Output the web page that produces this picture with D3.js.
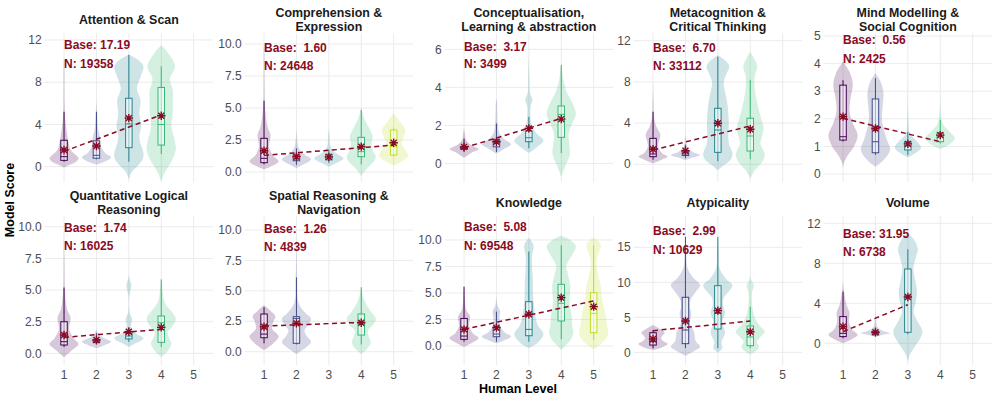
<!DOCTYPE html>
<html>
<head>
<meta charset="utf-8">
<script src="https://cdn.jsdelivr.net/npm/d3@7"></script>
<style>
  body { margin: 0; background: #fff; }
  text { font-family: "Liberation Sans", Arial, sans-serif; }
</style>
</head>
<body>
<svg id="chart" width="996" height="399"></svg>
<script>
// ---- data ----
const panelTitles = [
  ['Attention & Scan'], ['Comprehension &', 'Expression'],
  ['Conceptualisation,', 'Learning & abstraction'], ['Metacognition &', 'Critical Thinking'],
  ['Mind Modelling &', 'Social Cognition'], ['Quantitative Logical', 'Reasoning'],
  ['Spatial Reasoning &', 'Navigation'], ['Knowledge'], ['Atypicality'], ['Volume']
];
const humanLevels = [1, 2, 3, 4, 5];
const baseValues = [17.19, 1.60, 3.17, 6.70, 0.56, 1.74, 1.26, 5.08, 2.99, 31.95];
const nValues = [19358, 24648, 3499, 33112, 2425, 16025, 4839, 69548, 10629, 6738];

// levels present in each panel
const panelLevels = [
  [1, 2, 3, 4], [1, 2, 3, 4, 5], [1, 2, 3, 4], [1, 2, 3, 4], [1, 2, 3, 4],
  [1, 2, 3, 4], [1, 2, 4], [1, 2, 3, 4, 5], [1, 2, 3, 4], [1, 2, 3]
];

const yDomains = [
  [-1.45, 12.66], [-0.78, 10.86], [-0.98, 6.86], [-1.72, 12.75], [-0.29, 5.11],
  [-0.92, 10.85], [-1.09, 11.15], [-1.79, 12.26], [-1.81, 19.47], [-2.17, 12.73]
];
const yTicks = [
  [0, 4, 8, 12], [0, 2.5, 5, 7.5, 10], [0, 2, 4, 6], [0, 4, 8, 12], [0, 1, 2, 3, 4, 5],
  [0, 2.5, 5, 7.5, 10], [0, 2.5, 5, 7.5, 10], [0, 2.5, 5, 7.5, 10], [0, 5, 10, 15], [0, 4, 8, 12]
];
const tickFormats = ['d', '.1f', 'd', 'd', 'd', '.1f', '.1f', '.1f', 'd', 'd'];

// label heights in data units: [Base line, N line]
const labelAt = [
  [11.52, 9.72], [9.71, 8.28], [6.14, 5.26], [11.36, 9.57], [4.86, 4.17],
  [9.92, 8.5], [10.06, 8.6], [11.25, 9.46], [17.37, 14.7], [11.0, 9.16]
];

// mean model score per level (star)
const meanScores = [
  [1.58, 1.96, 4.6, 4.83], [1.66, 1.2, 1.18, 1.98, 2.29], [0.87, 1.14, 1.84, 2.33],
  [1.46, 1.32, 3.98, 3.4], [2.08, 1.65, 1.09, 1.41], [1.45, 1.05, 1.71, 2.05],
  [2.05, 2.33, 2.38], [1.57, 1.73, 2.99, 4.56, 3.71], [1.9, 4.47, 5.95, 2.94],
  [1.67, 1.1, 4.63]
];

// linear fit: value at first level and at last level
const fitLines = [
  [1.45, 4.9], [1.3, 2.1], [0.82, 2.37], [1.39, 3.72], [2.02, 1.17],
  [1.26, 1.9], [2.11, 2.41], [1.57, 4.25], [3.09, 4.47], [1.16, 3.86]
];

// box stats per level: [lower whisker, q1, median, q3, upper whisker]
const boxStats = [
  [[0.47, 0.6, 0.95, 2.5, 5.2], [0.7, 0.8, 1.08, 2.45, 5.2], [0.47, 1.8, 4.05, 6.48, 10.6], [1.2, 2.05, 4.0, 7.5, 9.5]],
  [[0.6, 0.73, 1.07, 2.63, 5.57], [0.55, 0.88, 1.02, 1.33, 1.85], [0.7, 0.95, 1.12, 1.38, 1.75], [0.6, 1.2, 1.59, 2.71, 4.84], [1.2, 1.33, 1.98, 3.28, 3.45]],
  [[0.6, 0.75, 0.8, 0.88, 1.3], [0.6, 0.87, 1.08, 1.23, 2.1], [0.8, 1.14, 1.35, 1.7, 2.45], [0.54, 1.37, 2.58, 3.02, 5.17]],
  [[0.44, 0.74, 1.0, 2.52, 5.1], [0.6, 0.85, 1.0, 1.3, 1.9], [0.3, 1.16, 3.33, 5.44, 10.45], [0.49, 1.29, 2.75, 4.47, 8.2]],
  [[1.18, 1.23, 1.35, 3.22, 3.4], [0.69, 0.77, 1.17, 2.72, 3.47], [0.69, 0.87, 1.03, 1.17, 1.53], [1.1, 1.17, 1.35, 1.5, 1.96]],
  [[0.5, 0.66, 0.92, 2.5, 5.2], [0.7, 0.85, 0.95, 1.1, 1.6], [0.9, 1.14, 1.37, 1.58, 2.05], [0.5, 0.87, 2.42, 2.95, 5.84]],
  [[0.69, 1.15, 1.45, 3.1, 3.65], [0.6, 0.69, 2.74, 2.88, 6.1], [0.6, 1.37, 2.47, 3.1, 5.3]],
  [[0.4, 0.63, 0.94, 2.6, 5.6], [0.4, 0.88, 1.13, 1.82, 3.24], [0.4, 0.97, 1.57, 4.18, 8.9], [0.63, 2.36, 4.03, 5.82, 9.5], [0.57, 1.26, 3.08, 5.03, 9.5]],
  [[0.57, 1.04, 1.52, 2.8, 3.19], [0.6, 1.24, 3.19, 7.86, 16.5], [0.6, 3.33, 5.57, 9.52, 16.5], [0.6, 0.95, 2.2, 3.76, 6.5]],
  [[0.5, 0.67, 1.0, 2.67, 5.17], [0.7, 0.85, 1.0, 1.2, 1.6], [0.9, 1.1, 4.73, 7.43, 9.4]]
];

// violin outlines per level: [score, relative half width]
const violinShapes = [
  [
    [[-0.1, 0], [0.2, 0.4], [0.5, 0.85], [0.8, 1], [1.1, 0.8], [1.6, 0.45], [2.5, 0.28], [3.2, 0.2], [4.5, 0.08], [6, 0.04], [10, 0.02], [10.3, 0]],
    [[0.2, 0], [0.5, 0.6], [0.9, 1], [1.3, 0.6], [2, 0.3], [2.8, 0.25], [3.5, 0.12], [5, 0.05], [6.2, 0]],
    [[-1.2, 0], [-0.5, 0.2], [0, 0.55], [0.7, 0.95], [1.3, 1], [2.2, 0.8], [2.9, 0.72], [3.8, 0.85], [5, 0.72], [6.3, 0.8], [7.4, 0.55], [8.5, 0.8], [9.5, 1], [10.1, 0.65], [10.6, 0]],
    [[-1.4, 0], [-0.5, 0.25], [0.5, 0.7], [1.6, 1], [2.5, 0.92], [3.8, 0.7], [5, 0.78], [6.3, 0.8], [7.2, 0.8], [8.3, 0.6], [9.5, 0.95], [10.7, 0.5], [11.5, 0]]
  ],
  [
    [[0.2, 0], [0.5, 0.6], [0.85, 1], [1.3, 0.6], [2, 0.35], [2.9, 0.45], [3.5, 0.25], [5, 0.07], [7, 0.03], [9.7, 0.02], [10, 0]],
    [[0.3, 0], [0.6, 0.5], [1, 1], [1.4, 0.5], [1.9, 0.15], [2.5, 0.05], [3.4, 0]],
    [[0.4, 0], [0.7, 0.5], [1.05, 1], [1.5, 0.45], [2, 0.12], [2.8, 0.05], [3.4, 0]],
    [[-0.3, 0], [0.3, 0.4], [0.8, 0.85], [1.2, 1], [1.8, 0.75], [2.3, 0.72], [2.8, 0.78], [3.4, 0.55], [4.2, 0.2], [5.1, 0]],
    [[0.5, 0], [0.9, 0.65], [1.3, 1], [1.8, 0.75], [2.25, 0.55], [2.8, 0.7], [3.3, 0.8], [3.9, 0.45], [4.6, 0]]
  ],
  [
    [[0.3, 0], [0.55, 0.5], [0.75, 1], [0.95, 0.5], [1.2, 0.15], [1.5, 0.07], [1.9, 0]],
    [[0.5, 0], [0.75, 0.5], [1, 1], [1.3, 0.5], [1.6, 0.2], [2.2, 0.08], [3.2, 0.04], [3.4, 0]],
    [[0.55, 0], [0.85, 0.55], [1.2, 1], [1.6, 0.5], [2, 0.2], [2.6, 0.1], [3, 0.12], [3.35, 0.25], [3.7, 0.08], [4.5, 0.04], [5.7, 0]],
    [[-0.7, 0], [-0.2, 0.25], [0.5, 0.6], [1, 0.55], [1.5, 0.5], [2, 0.7], [2.6, 1], [3.2, 0.75], [3.8, 0.35], [4.5, 0.12], [5.3, 0]]
  ],
  [
    [[0.1, 0], [0.45, 0.6], [0.75, 1], [1.1, 0.6], [1.8, 0.35], [2.9, 0.5], [3.6, 0.25], [4.5, 0.08], [6, 0.03], [8, 0]],
    [[0.4, 0], [0.65, 0.5], [0.9, 1], [1.2, 0.5], [1.6, 0.15], [2.3, 0.05], [3, 0]],
    [[-0.6, 0], [-0.1, 0.4], [0.5, 0.9], [1.1, 1], [1.8, 0.8], [2.5, 0.72], [4, 0.75], [5.9, 0.65], [7, 0.5], [8, 0.4], [8.8, 0.6], [9.5, 0.78], [10.1, 0.5], [10.6, 0]],
    [[-1.4, 0], [-0.6, 0.3], [0.2, 0.8], [0.9, 1], [1.5, 0.85], [2, 0.7], [2.8, 0.82], [3.5, 0.92], [4.3, 0.78], [5.1, 0.62], [6.5, 0.4], [8, 0.28], [8.8, 0.35], [9.5, 0.48], [10.2, 0.3], [10.9, 0]]
  ],
  [
    [[0.2, 0], [0.4, 0.06], [0.7, 0.35], [1, 0.75], [1.4, 1], [1.8, 0.7], [2.25, 0.45], [2.7, 0.5], [3.25, 0.67], [3.7, 0.45], [4.07, 0]],
    [[0.27, 0], [0.5, 0.55], [0.87, 1], [1.3, 0.75], [1.95, 0.45], [2.5, 0.5], [2.95, 0.55], [3.35, 0.35], [3.65, 0]],
    [[0.6, 0], [0.75, 0.5], [0.95, 0.9], [1.2, 0.6], [1.45, 0.15], [2, 0.04], [3.34, 0]],
    [[0.9, 0], [1.05, 0.55], [1.3, 1], [1.55, 0.6], [1.8, 0.2], [2.2, 0.05], [3.7, 0]]
  ],
  [
    [[-0.3, 0], [0.2, 0.5], [0.73, 1], [1.2, 0.65], [1.9, 0.35], [2.8, 0.45], [3.5, 0.2], [5, 0.06], [7, 0.03], [10, 0]],
    [[0.4, 0], [0.65, 0.55], [0.92, 1], [1.25, 0.45], [1.6, 0.1], [1.9, 0]],
    [[0.5, 0], [0.85, 0.55], [1.18, 1], [1.6, 0.45], [2.1, 0.15], [2.7, 0.22], [3.2, 0.06], [4.5, 0.03], [5.4, 0.17], [5.9, 0.04], [6.3, 0]],
    [[-0.3, 0], [0.2, 0.45], [0.8, 0.7], [1.3, 0.5], [1.7, 0.45], [2.2, 0.8], [2.75, 1], [3.3, 0.7], [4, 0.25], [5, 0.08], [6, 0]]
  ],
  [
    [[0.14, 0], [0.6, 0.55], [1.25, 1], [1.9, 0.55], [2.5, 0.65], [2.9, 0.78], [3.4, 0.4], [3.84, 0]],
    [[-0.2, 0], [0.3, 0.6], [0.8, 1], [1.3, 0.7], [1.75, 0.55], [2.2, 0.8], [2.7, 1], [3.2, 0.6], [4, 0.15], [6, 0.05], [9.7, 0]],
    [[-0.2, 0], [0.3, 0.45], [0.75, 0.65], [1.3, 0.5], [1.75, 0.45], [2.2, 0.8], [2.7, 1], [3.3, 0.65], [4.2, 0.22], [5.3, 0]]
  ],
  [
    [[-0.1, 0], [0.3, 0.55], [0.75, 1], [1.2, 0.6], [1.9, 0.35], [2.75, 0.42], [3.4, 0.15], [4.5, 0.05], [5.6, 0]],
    [[0.25, 0], [0.55, 0.55], [0.9, 1], [1.3, 0.55], [1.9, 0.25], [2.6, 0.2], [3.3, 0.25], [3.8, 0.08], [4.7, 0]],
    [[-0.2, 0], [0.3, 0.6], [1.1, 1], [2, 0.6], [3, 0.42], [4.5, 0.3], [6, 0.28], [7.5, 0.22], [8.5, 0.22], [9.5, 0.32], [10.2, 0]],
    [[-0.4, 0], [-0.05, 0.2], [0.5, 0.6], [1.2, 0.82], [2, 0.75], [2.8, 0.72], [3.7, 0.6], [4.4, 0.57], [5.3, 0.62], [5.9, 0.6], [6.8, 0.45], [7.6, 0.35], [8.5, 0.7], [9.4, 1], [10, 0.6], [10.4, 0]],
    [[-0.3, 0], [0.2, 0.5], [0.8, 0.9], [1.2, 1], [2, 0.9], [3.1, 0.8], [4.3, 0.6], [5.6, 0.5], [6.8, 0.3], [8, 0.2], [8.8, 0.35], [9.5, 0.5], [10, 0.25], [10.2, 0]]
  ],
  [
    [[0.33, 0], [0.7, 0.6], [1.2, 1], [1.6, 0.7], [2, 0.55], [2.4, 0.65], [2.8, 0.8], [3.3, 0.5], [3.9, 0]],
    [[-0.5, 0], [0.2, 0.6], [0.8, 1], [1.6, 0.7], [2.9, 0.6], [4.2, 0.3], [5.5, 0.4], [6.5, 0.3], [7.5, 0.35], [8.6, 0.7], [9.6, 1], [10.6, 0.55], [12, 0.15], [14, 0.05], [16.5, 0]],
    [[0, 0], [0.6, 0.3], [1.5, 0.25], [2.8, 0.5], [4.3, 0.3], [5.6, 0.5], [6.8, 0.35], [7.8, 0.4], [8.7, 0.75], [9.6, 1], [10.5, 0.55], [12, 0.12], [14, 0.05], [16.5, 0]],
    [[-0.3, 0], [0.3, 0.45], [0.8, 0.6], [1.5, 0.45], [2.2, 0.7], [2.95, 1], [3.8, 0.65], [5, 0.3], [6.5, 0.15], [8.5, 0.12], [9.5, 0.25], [10.3, 0.08], [10.9, 0]]
  ],
  [
    [[0, 0], [0.4, 0.6], [0.85, 1], [1.4, 0.6], [2.2, 0.4], [3, 0.45], [3.8, 0.25], [5, 0.08], [6.2, 0]],
    [[0.65, 0], [0.85, 0.55], [1, 1], [1.25, 0.5], [1.6, 0.15], [2.3, 0.05], [3.5, 0]],
    [[-1.9, 0], [-1.2, 0.12], [-0.3, 0.5], [0.5, 0.85], [1.2, 1], [2.1, 0.7], [3.1, 0.4], [4.2, 0.55], [5.2, 0.62], [6.3, 0.5], [7.5, 0.38], [8.6, 0.55], [9.4, 0.68], [10.3, 0.45], [11, 0]]
  ]
];

// ---- layout ----
const colLeft = [44.6, 244.6, 444.6, 633.6, 823.6];
const panelW = 168.5;
const rowTop = [33, 216];
const panelH = 149;
const stripMid = [20, 203];
const darkRed = '#8b0a23';
const gridColor = '#ebebeb';

const levelColor = d3.scaleOrdinal()
    .domain(humanLevels)
    .range([0, 0.225, 0.45, 0.675, 0.9].map(d3.interpolateViridis));

const svg = d3.select('#chart');

panelTitles.forEach(function(title, i) {
  const row = Math.floor(i / 5);
  const col = i % 5;
  const left = colLeft[col];
  const top = rowTop[row];
  const bottom = top + panelH;

  const x = d3.scalePoint().domain(humanLevels)
      .range([left, left + panelW]).padding(0.6);
  const y = d3.scaleLinear().domain(yDomains[i]).range([bottom, top]);
  const halfW = 0.45 * x.step();
  const boxW = 0.2 * x.step();

  const g = svg.append('g').attr('class', 'panel');

  // grid
  g.selectAll('line.hgrid').data(yTicks[i]).enter()
      .append('line')
      .attr('x1', left).attr('x2', left + panelW)
      .attr('y1', (d) => y(d)).attr('y2', (d) => y(d))
      .attr('stroke', gridColor).attr('stroke-width', 1);
  g.selectAll('line.vgrid').data(humanLevels).enter()
      .append('line')
      .attr('x1', (d) => x(d)).attr('x2', (d) => x(d))
      .attr('y1', top).attr('y2', bottom)
      .attr('stroke', gridColor).attr('stroke-width', 1);

  // y axis labels
  const fmt = d3.format(tickFormats[i]);
  g.selectAll('text.ytick').data(yTicks[i]).enter()
      .append('text')
      .attr('x', left - 3).attr('y', (d) => y(d))
      .attr('dy', '0.35em')
      .attr('text-anchor', 'end')
      .style('font-size', '12px').style('fill', '#4d4d4d')
      .text((d) => fmt(d));

  // x axis labels on bottom row
  if (row === 1) {
    g.selectAll('text.xtick').data(humanLevels).enter()
        .append('text')
        .attr('x', (d) => x(d)).attr('y', bottom + 10)
        .attr('dy', '0.35em')
        .attr('text-anchor', 'middle')
        .style('font-size', '12px').style('fill', '#4d4d4d')
        .text((d) => d);
  }

  // strip title
  const lines = title;
  g.append('text')
      .attr('x', left + panelW / 2)
      .attr('y', stripMid[row] - (lines.length - 1) * 7)
      .attr('text-anchor', 'middle')
      .style('font-size', '12.4px').style('font-weight', 'bold').style('fill', '#1a1a1a')
      .selectAll('tspan').data(lines).enter()
      .append('tspan')
      .attr('x', left + panelW / 2)
      .attr('dy', (d, k) => k === 0 ? '0.35em' : '14px')
      .text((d) => d);

  const levels = panelLevels[i];

  // violins
  const area = d3.area()
      .curve(d3.curveCatmullRom.alpha(0.5));
  g.selectAll('path.violin').data(levels).enter()
      .append('path')
      .attr('d', function(lv, k) {
        return area
            .y((d) => y(d[0]))
            .x0((d) => x(lv) - halfW * d[1])
            .x1((d) => x(lv) + halfW * d[1])(violinShapes[i][k]);
      })
      .attr('fill', (lv) => levelColor(lv))
      .attr('fill-opacity', 0.22)
      .attr('stroke', 'none');

  // box plots
  const boxG = g.selectAll('g.box').data(levels).enter()
      .append('g')
      .attr('stroke', (lv) => levelColor(lv))
      .attr('stroke-width', 1);
  boxG.append('line')
      .attr('x1', (lv) => x(lv)).attr('x2', (lv) => x(lv))
      .attr('y1', (lv, k) => y(boxStats[i][k][0]))
      .attr('y2', (lv, k) => y(boxStats[i][k][4]));
  boxG.append('rect')
      .attr('x', (lv) => x(lv) - boxW / 2)
      .attr('width', boxW)
      .attr('y', (lv, k) => y(boxStats[i][k][3]))
      .attr('height', (lv, k) => y(boxStats[i][k][1]) - y(boxStats[i][k][3]))
      .attr('fill', '#fff').attr('fill-opacity', 0.55);
  boxG.append('line')
      .attr('x1', (lv) => x(lv) - boxW / 2).attr('x2', (lv) => x(lv) + boxW / 2)
      .attr('y1', (lv, k) => y(boxStats[i][k][2]))
      .attr('y2', (lv, k) => y(boxStats[i][k][2]));

  // fitted trend
  const fitPts = [[levels[0], fitLines[i][0]], [levels[levels.length - 1], fitLines[i][1]]];
  g.append('path')
      .attr('d', d3.line().x((d) => x(d[0])).y((d) => y(d[1]))(fitPts))
      .attr('fill', 'none')
      .attr('stroke', darkRed)
      .attr('stroke-width', 1.5)
      .attr('stroke-dasharray', '5,3.5');

  // mean stars
  const r = 4.2;
  const star = `M${-r},0L${r},0M0,${-r}L0,${r}` +
      `M${-r * 0.707},${-r * 0.707}L${r * 0.707},${r * 0.707}` +
      `M${-r * 0.707},${r * 0.707}L${r * 0.707},${-r * 0.707}`;
  g.selectAll('path.star').data(levels).enter()
      .append('path')
      .attr('transform', (lv, k) => `translate(${x(lv)},${y(meanScores[i][k])})`)
      .attr('d', star)
      .attr('stroke', darkRed)
      .attr('stroke-width', 1.4)
      .attr('fill', 'none');

  // annotations
  const baseFmt = d3.format('5.2f');
  g.append('text')
      .attr('x', x(1)).attr('y', y(labelAt[i][0]))
      .attr('dy', '0.35em')
      .style('white-space', 'pre')
      .style('font-size', '12px').style('font-weight', 'bold').style('fill', darkRed)
      .text(`Base: ${baseFmt(baseValues[i])}`);
  g.append('text')
      .attr('x', x(1)).attr('y', y(labelAt[i][1]))
      .attr('dy', '0.35em')
      .style('font-size', '12px').style('font-weight', 'bold').style('fill', darkRed)
      .text(`N: ${nValues[i]}`);
});

// axis titles
svg.append('text')
    .attr('transform', 'translate(10,200) rotate(-90)')
    .attr('dy', '0.35em')
    .attr('text-anchor', 'middle')
    .style('font-size', '12.5px').style('font-weight', 'bold').style('fill', '#000')
    .text('Model Score');
svg.append('text')
    .attr('x', 518).attr('y', 389)
    .attr('dy', '0.35em')
    .attr('text-anchor', 'middle')
    .style('font-size', '12.5px').style('font-weight', 'bold').style('fill', '#000')
    .text('Human Level');
</script>
</body>
</html>
